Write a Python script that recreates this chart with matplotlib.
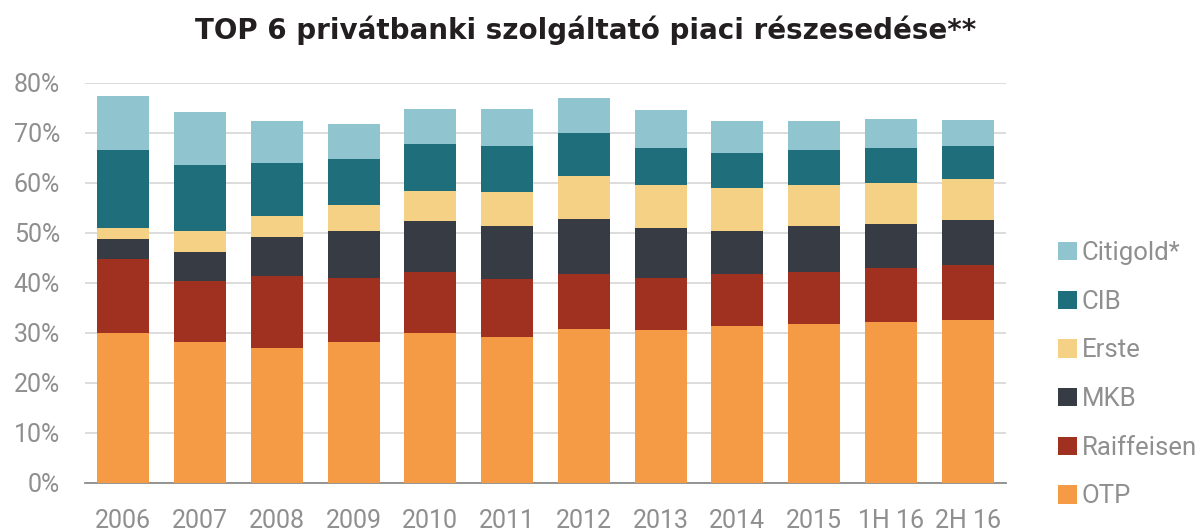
import matplotlib
matplotlib.use("Agg")
import matplotlib.pyplot as plt
from matplotlib.patches import Patch
import numpy as np

categories = ["2006", "2007", "2008", "2009", "2010", "2011", "2012", "2013", "2014", "2015", "1H 16", "2H 16"]
otp        = [30.1, 28.2, 27.0, 28.2, 30.1, 29.3, 30.9, 30.7, 31.5, 31.9, 32.3, 32.6]
raiffeisen = [14.8, 12.3, 14.5, 12.9, 12.2, 11.5, 10.9, 10.4, 10.3, 10.4, 10.7, 11.1]
mkb        = [4.0, 5.8, 7.8, 9.3, 10.2, 10.7, 11.1, 10.0, 8.6, 9.2, 8.9, 8.9]
erste      = [2.2, 4.1, 4.1, 5.2, 6.0, 6.7, 8.6, 8.6, 8.6, 8.2, 8.1, 8.2]
cib        = [15.6, 13.3, 10.7, 9.3, 9.3, 9.2, 8.6, 7.4, 7.0, 7.0, 7.1, 6.6]
citigold   = [10.7, 10.4, 8.2, 7.0, 7.1, 7.5, 7.0, 7.4, 6.5, 5.8, 5.8, 5.2]

series_names = ["OTP", "Raiffeisen", "MKB", "Erste", "CIB", "Citigold*"]
series_vals = [otp, raiffeisen, mkb, erste, cib, citigold]
colors = ["#F59A45", "#A0301F", "#373B43", "#F4D185", "#1E6E7B", "#90C4CE"]

plt.rcParams['font.family'] = ['Roboto', 'DejaVu Sans']

fig = plt.figure(figsize=(12, 5.32), dpi=100)
ax = fig.add_axes([85/1200, 1-483/532, 921/1200, 400/532])

x = np.arange(len(categories))
bottom = np.zeros(len(categories))
for name, vals, c in zip(series_names, series_vals, colors):
    v = np.array(vals)
    ax.bar(x, v, bottom=bottom, width=0.68, color=c, label=name, zorder=3)
    bottom += v

ax.set_xlim(-0.5, len(categories) - 0.5)
ax.set_ylim(0, 80)
ax.set_yticks(np.arange(0, 81, 10))
ax.set_yticklabels([f"{t}%" for t in range(0, 81, 10)])
ax.set_xticks(x)
ax.set_xticklabels(categories)

ax.grid(axis='y', color='#D6D6D6', linewidth=1.2, zorder=0)
for s in ['top', 'right', 'left']:
    ax.spines[s].set_visible(False)
ax.spines['bottom'].set_color('#8C8C8C')
ax.spines['bottom'].set_linewidth(1.3)
ax.tick_params(axis='both', length=0, labelsize=18, labelcolor='#8F8F8F')
ax.tick_params(axis='y', pad=18)
ax.tick_params(axis='x', pad=19)

fig.text(586/1200, 0.944, "TOP 6 privátbanki szolgáltató piaci részesedése**",
         ha='center', va='center', fontsize=20, fontweight='bold', color='#231F20',
         family=['DejaVu Sans'])

handles = [Patch(facecolor=c, edgecolor='none') for c in colors][::-1]
labels = series_names[::-1]
leg = fig.legend(handles, labels, loc='upper left', bbox_to_anchor=(1058/1200, 1-241/532),
                 frameon=False, fontsize=18.5, labelcolor='#8F8F8F',
                 handlelength=0.72, handleheight=0.72, handletextpad=0.2,
                 labelspacing=0.96, borderaxespad=0, borderpad=0)

fig.savefig("out.png", dpi=100)
